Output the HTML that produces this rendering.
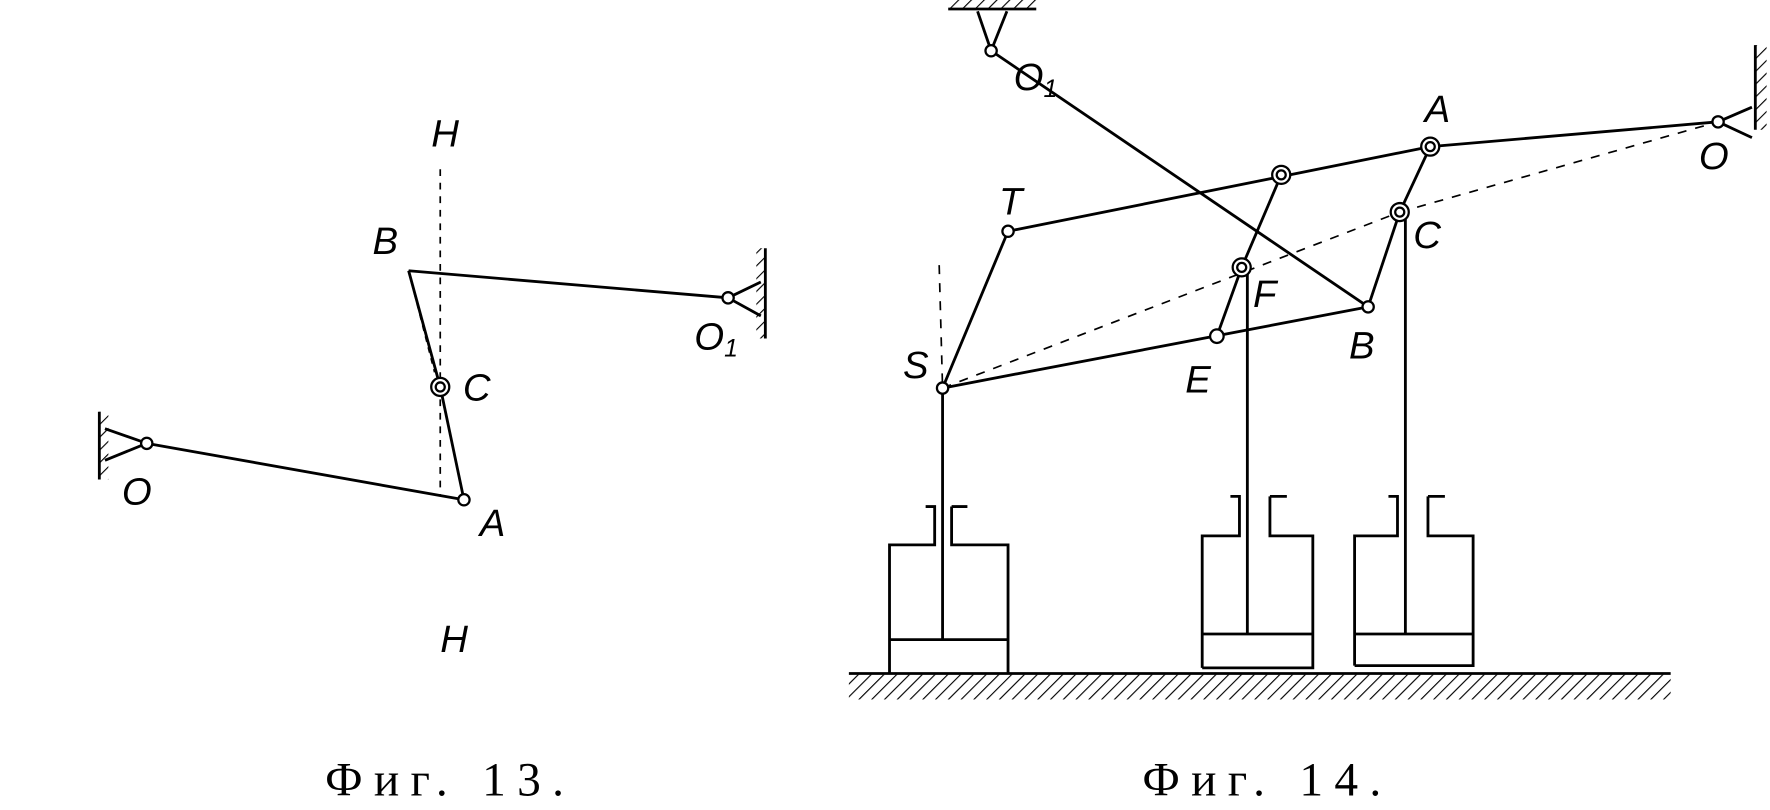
<!DOCTYPE html>
<html><head><meta charset="utf-8"><style>
html,body{margin:0;padding:0;background:#fff;}
svg{display:block}
text{font-family:"Liberation Sans",sans-serif;font-style:italic;fill:#000;}
.cap{font-family:"Liberation Serif",serif;font-style:normal;font-size:42px;letter-spacing:10px;}
</style></head><body>
<svg width="1770" height="810" viewBox="0 0 1568 718" preserveAspectRatio="none" xmlns="http://www.w3.org/2000/svg">
<defs>
<pattern id="h" width="8" height="8" patternUnits="userSpaceOnUse" patternTransform="rotate(45)"><line x1="0" y1="0" x2="0" y2="8" stroke="#000" stroke-width="2"/></pattern>
</defs>
<g stroke="#000" stroke-width="2.5" fill="none">
<line x1="130" y1="393" x2="411" y2="443"/>
<line x1="411" y1="443" x2="390" y2="343"/>
<line x1="390" y1="343" x2="362" y2="240"/>
<line x1="362" y1="240" x2="645" y2="264"/>
<line x1="390" y1="150" x2="390" y2="440" stroke-dasharray="6,6" stroke-width="1.5"/>
<line x1="362" y1="240" x2="385" y2="330" stroke-dasharray="5,5" stroke-width="1.5"/>
<line x1="88" y1="365" x2="88" y2="425"/>
<rect x="88" y="365" width="8" height="60" fill="url(#h)" stroke="none"/>
<line x1="93" y1="380" x2="130" y2="393"/><line x1="93" y1="408" x2="130" y2="393"/>
<line x1="678" y1="220" x2="678" y2="300"/>
<rect x="670" y="220" width="8" height="80" fill="url(#h)" stroke="none"/>
<line x1="645" y1="264" x2="674" y2="250"/><line x1="645" y1="264" x2="674" y2="280"/>
<line x1="878" y1="45" x2="1212" y2="272"/>
<line x1="840" y1="8" x2="918" y2="8"/>
<rect x="840" y="0" width="78" height="8" fill="url(#h)" stroke="none"/>
<line x1="878" y1="45" x2="866" y2="10"/><line x1="878" y1="45" x2="892" y2="10"/>
<line x1="1555" y1="40" x2="1555" y2="115"/>
<rect x="1555" y="40" width="10" height="75" fill="url(#h)" stroke="none"/>
<line x1="1522" y1="108" x2="1552" y2="95"/><line x1="1522" y1="108" x2="1552" y2="122"/>
<polyline points="1522,108 1267,130 893,205"/>
<line x1="893" y1="205" x2="835" y2="344"/>
<line x1="835" y1="344" x2="1212" y2="272"/>
<line x1="1267" y1="130" x2="1240" y2="188"/>
<line x1="1240" y1="188" x2="1212" y2="272"/>
<line x1="1135" y1="155" x2="1100" y2="237"/>
<line x1="1100" y1="237" x2="1078" y2="298"/>
<line x1="835" y1="344" x2="1240" y2="188" stroke-dasharray="8,8" stroke-width="1.5"/>
<line x1="1240" y1="188" x2="1522" y2="108" stroke-dasharray="8,8" stroke-width="1.5"/>
<line x1="832" y1="235" x2="835" y2="344" stroke-dasharray="8,8" stroke-width="1.5"/>
<line x1="835" y1="344" x2="835" y2="567"/>
<line x1="1105" y1="237" x2="1105" y2="562"/>
<line x1="1245" y1="188" x2="1245" y2="562"/>
<path d="M788 597 V483 H828 V449 H820 M843 449 H857 M843 449 V483 H893 V597 M788 567 H893"/>
<path d="M1065 592 V475 H1098 V440 H1090 M1125 440 H1140 M1125 440 V475 H1163 V592 H1065 M1065 562 H1163"/>
<path d="M1200 590 V475 H1238 V440 H1230 M1265 440 H1280 M1265 440 V475 H1305 V590 H1200 M1200 562 H1305"/>
<line x1="752" y1="597" x2="1480" y2="597"/>
<rect x="752" y="598" width="728" height="22" fill="url(#h)" stroke="none"/>
</g>
<g fill="#fff" stroke="#000" stroke-width="2">
<circle cx="130" cy="393" r="5"/><circle cx="411" cy="443" r="5"/><circle cx="390" cy="343" r="8"/><circle cx="390" cy="343" r="4"/>
<circle cx="645" cy="264" r="5"/>
<circle cx="878" cy="45" r="5"/><circle cx="1522" cy="108" r="5"/>
<circle cx="893" cy="205" r="5"/><circle cx="835" cy="344" r="5"/><circle cx="1212" cy="272" r="5"/>
<circle cx="1267" cy="130" r="8"/><circle cx="1267" cy="130" r="4"/>
<circle cx="1135" cy="155" r="8"/><circle cx="1135" cy="155" r="4"/>
<circle cx="1240" cy="188" r="8"/><circle cx="1240" cy="188" r="4"/>
<circle cx="1100" cy="237" r="8"/><circle cx="1100" cy="237" r="4"/>
<circle cx="1078" cy="298" r="6"/>
</g>
<g font-size="34">
<text x="382" y="130">H</text><text x="390" y="578">H</text>
<text x="330" y="225">B</text><text x="410" y="355">C</text><text x="615" y="310">O<tspan font-size="22" dy="6">1</tspan></text>
<text x="108" y="447">O</text><text x="425" y="475">A</text>
<text x="885" y="190">T</text><text x="800" y="335">S</text><text x="1110" y="272">F</text><text x="1050" y="348">E</text>
<text x="1195" y="318">B</text><text x="1252" y="220">C</text><text x="1262" y="108">A</text>
<text x="1505" y="150">O</text><text x="898" y="80">O<tspan font-size="22" dy="6">1</tspan></text>
</g>
<text class="cap" x="288" y="705">Фиг. 13.</text>
<text class="cap" x="1012" y="705">Фиг. 14.</text>
</svg>
</body></html>
